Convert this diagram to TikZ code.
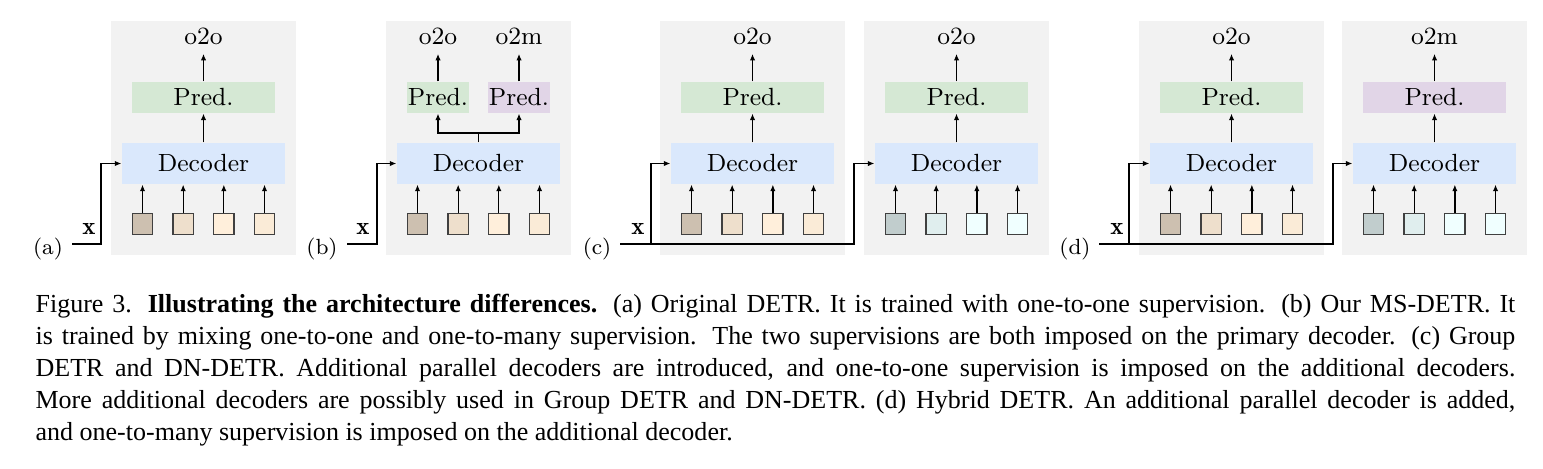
\documentclass[tikz,border=0pt]{standalone}
\usepackage{fontspec}
\newfontfamily\capfont{Liberation Serif}
\usetikzlibrary{arrows.meta}
\definecolor{panelbg}{HTML}{F2F2F2}
\definecolor{predg}{HTML}{D5E8D4}
\definecolor{predp}{HTML}{E1D5E7}
\definecolor{decb}{HTML}{DAE8FC}
\definecolor{qaA}{HTML}{CDC0B0}
\definecolor{qaB}{HTML}{EEDFCC}
\definecolor{qaC}{HTML}{FFEFDB}
\definecolor{qaD}{HTML}{FAEBD7}
\definecolor{qzA}{HTML}{C1CDCD}
\definecolor{qzB}{HTML}{E0EEEE}
\definecolor{qzC}{HTML}{F0FFFF}
\definecolor{qzD}{HTML}{F0FFFF}
\newcommand\dgfont{\fontsize{8.6}{10}\selectfont}
\newcommand\sbfont{\fontsize{7.6}{9}\selectfont}
\newcommand\cpfont{\capfont\fontsize{9}{11}\selectfont}
\tikzset{
  arr/.style={-{Latex[length=2.3pt,width=1.9pt]}, line width=0.45pt},
  wire/.style={line width=0.45pt},
  decbox/.style={fill=decb, minimum width=56.4pt, minimum height=14.2pt, inner sep=0pt, font=\dgfont},
  predbox/.style={minimum width=49.5pt, minimum height=10.7pt, inner sep=0pt, font=\dgfont},
  qbox/.style={draw=black!75, line width=0.45pt, minimum size=7.1pt, inner sep=0pt},
  outlab/.style={font=\dgfont, inner sep=0pt, anchor=base},
  xlab/.style={font=\dgfont, inner sep=0pt, anchor=base},
  sublab/.style={font=\sbfont, inner sep=0pt, anchor=base},
  capline/.style={font=\cpfont, inner sep=0pt, anchor=base west},
}
% squares row: #1 name, #2 panel left, #3-#6 colours
\newcommand\qrow[6]{%
  \foreach \k/\c in {0/#3,1/#4,2/#5,3/#6}{%
    \node[qbox, fill=\c] (#1q\k) at (#2+31.5+\k*40.67,224) {};
    \draw[arr] (#1q\k.north) -- (#1q\k.north |- #1dec.south);
  }%
}
% full panel: #1 name, #2 left, #3 pred colour, #4 output text, #5-#8 square colours
\newcommand\dpanel[8]{%
  \fill[panelbg] (#2,21) rectangle (#2+184.5,255);
  \node[decbox] (#1dec) at (#2+92.5,163.5) {Decoder};
  \node[predbox, fill=#3] (#1pred) at (#2+92.5,97.5) {Pred.};
  \node[outlab] (#1out) at (#2+92.5,44) {#4};
  \draw[arr] (#1dec.north) -- (#1pred.south);
  \draw[arr, shorten >=3.1pt] (#1pred.north) -- (#1out.south);
  \qrow{#1}{#2}{#5}{#6}{#7}{#8}%
}
\begin{document}
\begin{tikzpicture}[x=0.346pt,y=-0.346pt]
\useasboundingbox (0,0) rectangle (1543,468);
% (a)
\dpanel{a}{111}{predg}{o2o}{qaA}{qaB}{qaC}{qaD}
\coordinate (ain) at (72,244);
\draw[arr] (ain) -- ++(29,0) |- (adec.west);
\node[xlab] (ax) at (89,234) {$\mathbf{x}$};
\node[sublab] (alab) at (48,254) {(a)};
% (b)
\fill[panelbg] (386,21) rectangle (571,255);
\node[decbox] (bdec) at (478.5,163.5) {Decoder};
\node[predbox, fill=predg, minimum width=21.5pt] (bp1) at (438,97.5) {Pred.};
\node[predbox, fill=predp, minimum width=21.5pt] (bp2) at (519,97.5) {Pred.};
\node[outlab] (bo1) at (438,44) {o2o};
\node[outlab] (bo2) at (519,44) {o2m};
\draw[arr, shorten >=3.1pt] (bp1.north) -- (bo1.south);
\draw[arr, shorten >=3.1pt] (bp2.north) -- (bo2.south);
\coordinate (bj) at (478.5,133);
\draw[wire] (bdec.north) -- (bj);
\draw[arr] (bj) -| (bp1.south);
\draw[arr] (bj) -| (bp2.south);
\qrow{b}{386}{qaA}{qaB}{qaC}{qaD}
\coordinate (bin) at (347,244);
\draw[arr] (bin) -- ++(30,0) |- (bdec.west);
\node[xlab] (bx) at (363,234) {$\mathbf{x}$};
\node[sublab] (blab) at (322,254) {(b)};
% (c)
\dpanel{ca}{660}{predg}{o2o}{qaA}{qaB}{qaC}{qaD}
\dpanel{cb}{864}{predg}{o2o}{qzA}{qzB}{qzC}{qzD}
\coordinate (cin) at (620,244);
\coordinate (cbr) at (651,244);
\draw[arr] (cin) -- ++(234,0) |- (cbdec.west);
\draw[arr] (cbr) |- (cadec.west);
\node[xlab] (cx) at (638,234) {$\mathbf{x}$};
\node[sublab] (clab) at (597,254) {(c)};
% (d)
\dpanel{da}{1139}{predg}{o2o}{qaA}{qaB}{qaC}{qaD}
\dpanel{db}{1342}{predp}{o2m}{qzA}{qzB}{qzC}{qzD}
\coordinate (din) at (1099,244);
\coordinate (dbr) at (1129,244);
\draw[arr] (din) -- ++(234,0) |- (dbdec.west);
\draw[arr] (dbr) |- (dadec.west);
\node[xlab] (dx) at (1117,234) {$\mathbf{x}$};
\node[sublab] (dlab) at (1075,254) {(d)};
% caption
\node[capline] (cap1) at (35,312) {\makebox[512pt][s]{Figure 3. \textbf{Illustrating the architecture differences.} (a) Original DETR. It is trained with one-to-one supervision. (b) Our MS-DETR. It}};
\node[capline] (cap2) at (35,344) {\makebox[512pt][s]{is trained by mixing one-to-one and one-to-many supervision. The two supervisions are both imposed on the primary decoder. (c) Group}};
\node[capline] (cap3) at (35,376) {\makebox[512pt][s]{DETR and DN-DETR. Additional parallel decoders are introduced, and one-to-one supervision is imposed on the additional decoders.}};
\node[capline] (cap4) at (35,408) {\makebox[512pt][s]{More additional decoders are possibly used in Group DETR and DN-DETR. (d) Hybrid DETR. An additional parallel decoder is added,}};
\node[capline] (cap5) at (35,440) {and one-to-many supervision is imposed on the additional decoder.};
\end{tikzpicture}
\end{document}
